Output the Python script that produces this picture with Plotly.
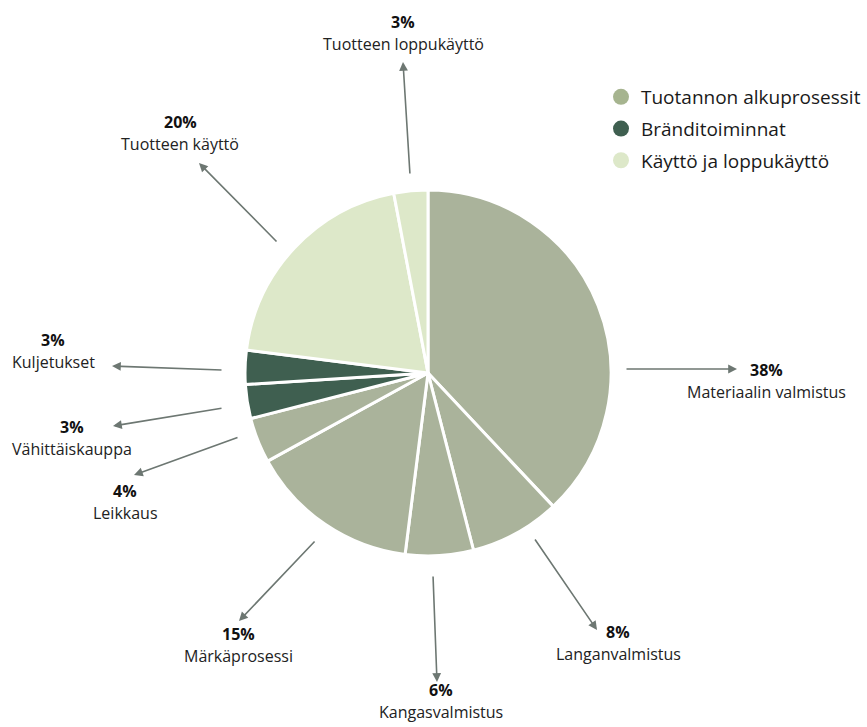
import plotly.graph_objects as go

# ---- data ----
labels = ["Materiaalin valmistus", "Langanvalmistus", "Kangasvalmistus", "Märkäprosessi",
          "Leikkaus", "Vähittäiskauppa", "Kuljetukset", "Tuotteen käyttö", "Tuotteen loppukäyttö"]
values = [38, 8, 6, 15, 4, 3, 3, 20, 3]
groups = ["Tuotannon alkuprosessit", "Tuotannon alkuprosessit", "Tuotannon alkuprosessit",
          "Tuotannon alkuprosessit", "Tuotannon alkuprosessit", "Bränditoiminnat",
          "Bränditoiminnat", "Käyttö ja loppukäyttö", "Käyttö ja loppukäyttö"]
group_names = ["Tuotannon alkuprosessit", "Bränditoiminnat", "Käyttö ja loppukäyttö"]

# ---- style ----
group_colors = {"Tuotannon alkuprosessit": "#aab39b",
                "Bränditoiminnat": "#3f5f50",
                "Käyttö ja loppukäyttö": "#dde8c9"}
legend_colors = {"Tuotannon alkuprosessit": "#a6b48f",
                 "Bränditoiminnat": "#3f5f50",
                 "Käyttö ja loppukäyttö": "#dde8c9"}
W, H = 867, 727
FONT = "Open Sans"
ARROW = "#6d7772"

# label layout (pixel positions): text centre, arrow tail, arrow head
label_pos = [(766, 370), (618, 632), (441, 690), (238, 634), (125, 491),
             (72, 427), (53, 340), (180, 122), (403, 22)]
arrow_tail = [(625, 369), (534, 538), (433, 575), (316, 540), (239, 437),
              (223, 408), (223, 370), (278, 243), (410, 175)]
arrow_head = [(737, 369), (597, 630), (437, 682), (239, 621), (134, 475),
              (113, 426), (112, 366), (199, 163), (403, 62)]

def px(x):
    return x / W

def py(y):
    return 1 - y / H

fig = go.Figure()
fig.add_trace(go.Pie(
    labels=labels, values=values, sort=False, direction="clockwise", rotation=0,
    marker=dict(colors=[group_colors[g] for g in groups], line=dict(color="white", width=3)),
    textinfo="none", hoverinfo="label+percent", showlegend=False,
    domain=dict(x=[px(245), px(611)], y=[py(556), py(190)]),
))

for i, g in enumerate(group_names):
    fig.add_trace(go.Scatter(
        x=[None], y=[None], mode="markers", name=g, legendgroup=g,
        marker=dict(symbol="circle", size=18, color=legend_colors[g]),
    ))

annotations = []
for lab, v, (tx, ty), (ax0, ay0), (hx, hy) in zip(labels, values, label_pos, arrow_tail, arrow_head):
    annotations.append(dict(x=px(tx), y=py(ty), xref="paper", yref="paper",
                            xanchor="center", yanchor="middle",
                            text=f"<b>{v}%</b>", showarrow=False,
                            font=dict(family=FONT, size=16, color="#111111")))
    annotations.append(dict(x=px(tx), y=py(ty + 22), xref="paper", yref="paper",
                            xanchor="center", yanchor="middle",
                            text=lab, showarrow=False,
                            font=dict(family=FONT, size=16, color="#222222")))
    annotations.append(dict(x=px(hx), y=py(hy), xref="paper", yref="paper",
                            text="", showarrow=True, arrowhead=2, arrowsize=1.1,
                            arrowwidth=1.6, arrowcolor=ARROW,
                            ax=ax0 - hx, ay=ay0 - hy, standoff=0, startstandoff=0))

fig.update_layout(
    width=W, height=H, margin=dict(l=0, r=0, t=0, b=0),
    paper_bgcolor="white", plot_bgcolor="white",
    annotations=annotations,
    xaxis=dict(visible=False), yaxis=dict(visible=False),
    showlegend=True,
    legend=dict(x=px(601), y=py(78), xanchor="left", yanchor="top",
                font=dict(family=FONT, size=19, color="#1a1a1a"),
                tracegroupgap=4, bgcolor="rgba(0,0,0,0)"),
    font=dict(family=FONT),
)

fig.write_html("out.html")
